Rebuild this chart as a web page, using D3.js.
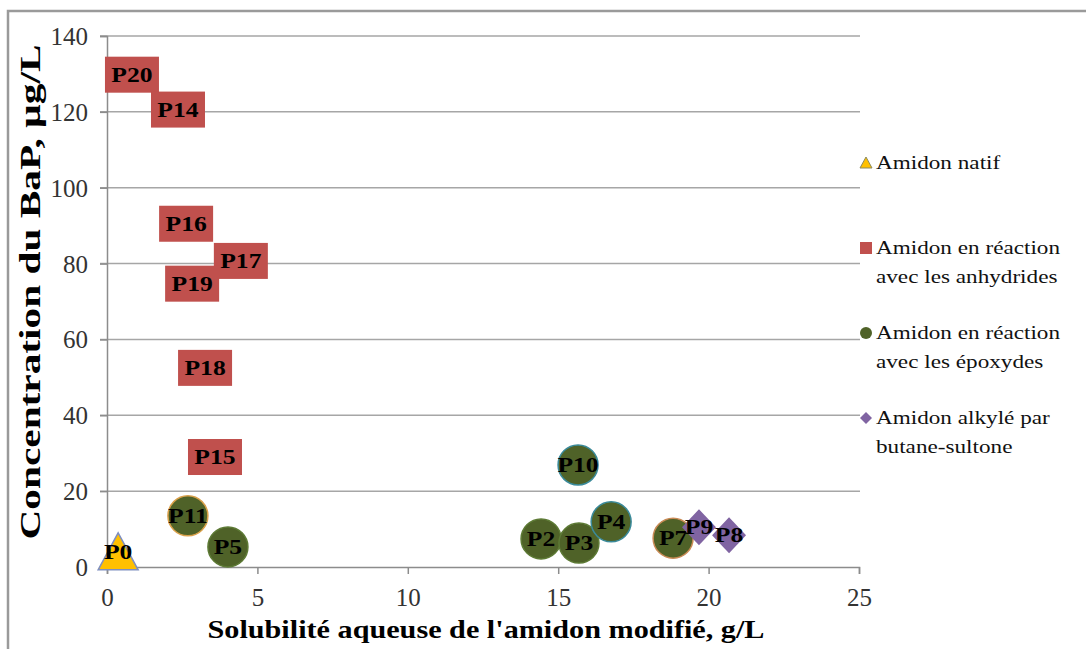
<!DOCTYPE html>
<html>
<head>
<meta charset="utf-8">
<script src="https://cdn.jsdelivr.net/npm/d3@7"></script>
<style>
  body { margin: 0; background: #fff; }
  svg { display: block; }
  text { font-family: "Liberation Serif", "Times New Roman", serif; }
</style>
</head>
<body>
<svg id="chart" width="1086" height="649"></svg>
<script>
// values
const xTicks = [0, 5, 10, 15, 20, 25];
const yTicks = [0, 20, 40, 60, 80, 100, 120, 140];

const nativeLabels = ["P0"];
const nativeX = [0.37];
const nativeY = [4];

const anhydLabels = ["P20", "P14", "P16", "P17", "P19", "P18", "P15"];
const anhydX = [0.83, 2.36, 2.63, 4.45, 2.83, 3.26, 3.59];
const anhydY = [129.8, 120.6, 90.5, 80.7, 74.7, 52.5, 29];

const epoxLabels = ["P11", "P5", "P10", "P2", "P3", "P4", "P7"];
const epoxX = [2.69, 4.02, 15.66, 14.43, 15.69, 16.76, 18.82];
const epoxY = [13.5, 5.3, 26.9, 7.4, 6.3, 11.9, 7.6];

const sultLabels = ["P9", "P8"];
const sultX = [19.68, 20.68];
const sultY = [10.5, 8.4];

const legendNames = [
    ["Amidon natif"],
    ["Amidon en réaction", "avec les anhydrides"],
    ["Amidon en réaction", "avec les époxydes"],
    ["Amidon alkylé par", "butane-sultone"]
];

// circle outlines differ a bit per point in the original
const circleEdge = {P11: "#d9a04a", P7: "#c98a55", P10: "#3a8a9a", P4: "#3a8a9a"};

const svg = d3.select("#chart");

const x = d3.scaleLinear().domain([0, 25]).range([107, 859]);
const y = d3.scaleLinear().domain([0, 140]).range([567, 36]);

const zip = (l, xs, ys) => l.map((d, i) => ({label: d, x: xs[i], y: ys[i]}));

// outer frame (only top and left visible)
svg.append("path")
   .attr("d", "M8,649 L8,11 L1086,11")
   .attr("fill", "none")
   .attr("stroke", "#9a9a9a")
   .attr("stroke-width", 2.5);

// gridlines
svg.append("g")
   .selectAll("line")
   .data(yTicks.filter(d => d > 0))
   .join("line")
   .attr("x1", 100).attr("x2", 860)
   .attr("y1", d => y(d)).attr("y2", d => y(d))
   .attr("stroke", "#a6a6a6")
   .attr("stroke-width", 1.5);

// axes
let yAxis = svg.append("g")
    .attr("transform", "translate(107,0)")
    .call(d3.axisLeft(y).tickValues(yTicks).tickSize(7).tickPadding(12));
let xAxis = svg.append("g")
    .attr("transform", "translate(0,567)")
    .call(d3.axisBottom(x).tickValues(xTicks).tickSize(7).tickPadding(14));

[yAxis, xAxis].forEach(a => {
    a.select(".domain").attr("stroke", "#8c8c8c").attr("stroke-width", 1.5);
    a.selectAll(".tick line").attr("stroke", "#8c8c8c").attr("stroke-width", 1.5);
    a.selectAll(".tick text")
     .attr("fill", "#333")
     .style("font-family", "'Liberation Serif', serif")
     .style("font-size", "25px");
});
yAxis.selectAll(".tick text").attr("dy", "0.34em");

// label helper: bold stretched text centred on a point
function addLabels(g, data) {
    g.selectAll("text.lbl")
     .data(data)
     .join("text")
     .attr("class", "lbl")
     .attr("transform", d => "translate(" + x(d.x) + "," + (y(d.y) + 7) + ") scale(1.28,1)")
     .attr("text-anchor", "middle")
     .style("font-size", "20px")
     .style("font-weight", "bold")
     .attr("fill", "#000")
     .text(d => d.label);
}

// native starch: triangle
let gNat = svg.append("g");
gNat.selectAll("path")
    .data(zip(nativeLabels, nativeX, nativeY))
    .join("path")
    .attr("d", d => {
        let cx = x(d.x), cy = y(d.y);
        return "M" + (cx - 20) + "," + (cy + 18) + " L" + cx + "," + (cy - 19) +
               " L" + (cx + 20) + "," + (cy + 18) + "Z";
    })
    .attr("fill", "#ffc000")
    .attr("stroke", "#7f8fc0")
    .attr("stroke-width", 1.5);
addLabels(gNat, zip(nativeLabels, nativeX, nativeY));

// anhydrides: big red squares
let gAn = svg.append("g");
gAn.selectAll("rect")
   .data(zip(anhydLabels, anhydX, anhydY))
   .join("rect")
   .attr("x", d => x(d.x) - 27)
   .attr("y", d => y(d.y) - 18)
   .attr("width", 54)
   .attr("height", 36)
   .attr("fill", "#c0504d");
addLabels(gAn, zip(anhydLabels, anhydX, anhydY));

// epoxides: green circles
let gEp = svg.append("g");
gEp.selectAll("circle")
   .data(zip(epoxLabels, epoxX, epoxY))
   .join("circle")
   .attr("cx", d => x(d.x))
   .attr("cy", d => y(d.y))
   .attr("r", 20)
   .attr("fill", "#4f6228")
   .attr("stroke", d => circleEdge[d.label] || "#5d7a35")
   .attr("stroke-width", 1.5);
addLabels(gEp, zip(epoxLabels, epoxX, epoxY));

// butane-sultone: purple diamonds
let gSu = svg.append("g");
gSu.selectAll("path")
   .data(zip(sultLabels, sultX, sultY))
   .join("path")
   .attr("d", d => {
       let cx = x(d.x), cy = y(d.y);
       return "M" + cx + "," + (cy - 18) + " L" + (cx + 17) + "," + cy + " L" + cx + "," +
              (cy + 18) + " L" + (cx - 17) + "," + cy + "Z";
   })
   .attr("fill", "#8064a2");
addLabels(gSu, zip(sultLabels, sultX, sultY));

// axis titles
svg.append("text")
   .attr("x", 486).attr("y", 638)
   .attr("text-anchor", "middle")
   .attr("textLength", 557)
   .attr("lengthAdjust", "spacingAndGlyphs")
   .style("font-size", "26px")
   .style("font-weight", "bold")
   .attr("fill", "#000")
   .text("Solubilité aqueuse de l'amidon modifié, g/L");

svg.append("text")
   .attr("transform", "translate(40,292) rotate(-90)")
   .attr("text-anchor", "middle")
   .attr("textLength", 495)
   .attr("lengthAdjust", "spacingAndGlyphs")
   .style("font-size", "30px")
   .style("font-weight", "bold")
   .attr("fill", "#000")
   .text("Concentration du BaP, µg/L");

// legend
const legY = [163, 248, 333, 418];
let leg = svg.append("g");
legendNames.forEach((lines, i) => {
    let cy = legY[i], cx = 866;
    if (i === 0) {
        leg.append("path").attr("d", `M${cx - 6},${cy + 5} L${cx},${cy - 6} L${cx + 6},${cy + 5}Z`)
           .attr("fill", "#ffc000").attr("stroke", "#8a8a60").attr("stroke-width", 1);
    } else if (i === 1) {
        leg.append("rect").attr("x", cx - 6).attr("y", cy - 6).attr("width", 12).attr("height", 12)
           .attr("fill", "#c0504d");
    } else if (i === 2) {
        leg.append("circle").attr("cx", cx).attr("cy", cy).attr("r", 6).attr("fill", "#4f6228");
    } else {
        leg.append("path").attr("d", `M${cx},${cy - 6} L${cx + 6},${cy} L${cx},${cy + 6} L${cx - 6},${cy}Z`)
           .attr("fill", "#8064a2");
    }
    lines.forEach((t, j) => {
        leg.append("text")
           .attr("transform", "translate(876," + (cy + 6 + j * 29) + ") scale(1.22,1)")
           .style("font-size", "19px")
           .attr("fill", "#111")
           .text(t);
    });
});
</script>
</body>
</html>
